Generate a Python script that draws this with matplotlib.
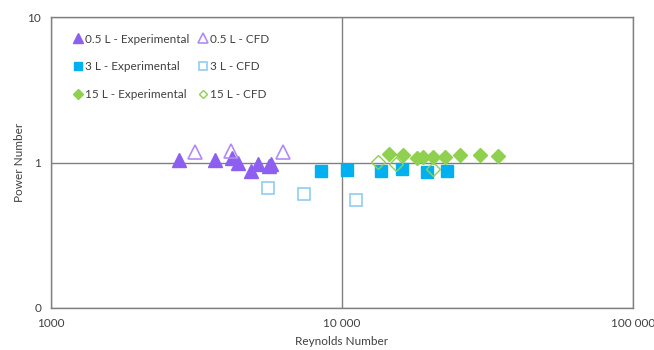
import matplotlib
matplotlib.use("Agg")
import matplotlib.pyplot as plt
from matplotlib.ticker import FixedLocator, FixedFormatter, NullLocator

# 0.5 L
re_05_exp = [2750, 3660, 4190, 4400, 4860, 5140, 5610, 5700]
po_05_exp = [1.04, 1.04, 1.08, 1.00, 0.875, 0.98, 0.94, 0.98]
re_05_cfd = [3130, 4160, 6250]
po_05_cfd = [1.19, 1.21, 1.18]

# 3 L
re_3_exp = [8470, 10380, 13580, 16040, 19640, 23000]
po_3_exp = [0.874, 0.887, 0.874, 0.90, 0.86, 0.874]
re_3_cfd = [5570, 7400, 11170]
po_3_cfd = [0.668, 0.607, 0.552]

# 15 L
re_15_exp = [14540, 16170, 18060, 19030, 20500, 22590, 25440, 29790, 34440]
po_15_exp = [1.14, 1.12, 1.07, 1.10, 1.09, 1.10, 1.12, 1.12, 1.11]
re_15_cfd = [13330, 15330, 20500]
po_15_cfd = [1.01, 0.97, 0.90]

x_ticks = [1000, 10000, 100000]
x_labels = ["1000", "10 000", "100 000"]
y_ticks = [0.1, 1, 10]
y_labels = ["0", "1", "10"]

plt.rcParams['font.family'] = ['Lato', 'DejaVu Sans']

fig = plt.figure(figsize=(6.54, 3.5), dpi=100)
ax = fig.add_axes([0.078, 0.12, 0.89, 0.831])

purple = "#8c5ff0"
purple_l = "#b08cf5"
blue = "#00b0f0"
blue_l = "#8fcdf0"
green = "#8fd14f"

h1, = ax.plot(re_05_exp, po_05_exp, ls="none", marker="^", ms=10, color=purple, label="0.5 L - Experimental")
h2, = ax.plot(re_05_cfd, po_05_cfd, ls="none", marker="^", ms=10, mfc="none", mec=purple_l, mew=1.2, label="0.5 L - CFD")
h3, = ax.plot(re_3_exp, po_3_exp, ls="none", marker="s", ms=8.5, color=blue, label="3 L - Experimental")
h4, = ax.plot(re_3_cfd, po_3_cfd, ls="none", marker="s", ms=8.5, mfc="none", mec=blue_l, mew=1.2, label="3 L - CFD")
h5, = ax.plot(re_15_exp, po_15_exp, ls="none", marker="D", ms=7.5, color=green, label="15 L - Experimental")
h6, = ax.plot(re_15_cfd, po_15_cfd, ls="none", marker="D", ms=7, mfc="none", mec=green, mew=1.0, label="15 L - CFD")

ax.set_xscale("log")
ax.set_yscale("log")
ax.set_xlim(1000, 100000)
ax.set_ylim(0.1, 10)
ax.xaxis.set_major_locator(FixedLocator(x_ticks))
ax.xaxis.set_major_formatter(FixedFormatter(x_labels))
ax.xaxis.set_minor_locator(NullLocator())
ax.yaxis.set_major_locator(FixedLocator(y_ticks))
ax.yaxis.set_major_formatter(FixedFormatter(y_labels))
ax.yaxis.set_minor_locator(NullLocator())
ax.tick_params(length=0, labelsize=8.5, labelcolor="#404040", pad=7)
ax.grid(True, color="#808080", lw=1.0)
ax.set_axisbelow(True)
for s in ax.spines.values():
    s.set_color("#808080")
    s.set_linewidth(1.0)

ax.set_xlabel("Reynolds Number", fontsize=8.5, color="#404040", labelpad=5)
ax.set_ylabel("Power Number", fontsize=8.5, color="#404040", labelpad=2)

# column-major order so each row pairs experimental with CFD
ax.legend(handles=[h1, h3, h5, h2, h4, h6], loc="upper left", ncol=2, frameon=False,
          fontsize=8.5, labelspacing=1.4, handletextpad=0.2, columnspacing=0.75,
          handlelength=0.8, markerscale=0.65, bbox_to_anchor=(0.02, 0.98),
          labelcolor="#404040")

fig.savefig("out.png", dpi=100)
